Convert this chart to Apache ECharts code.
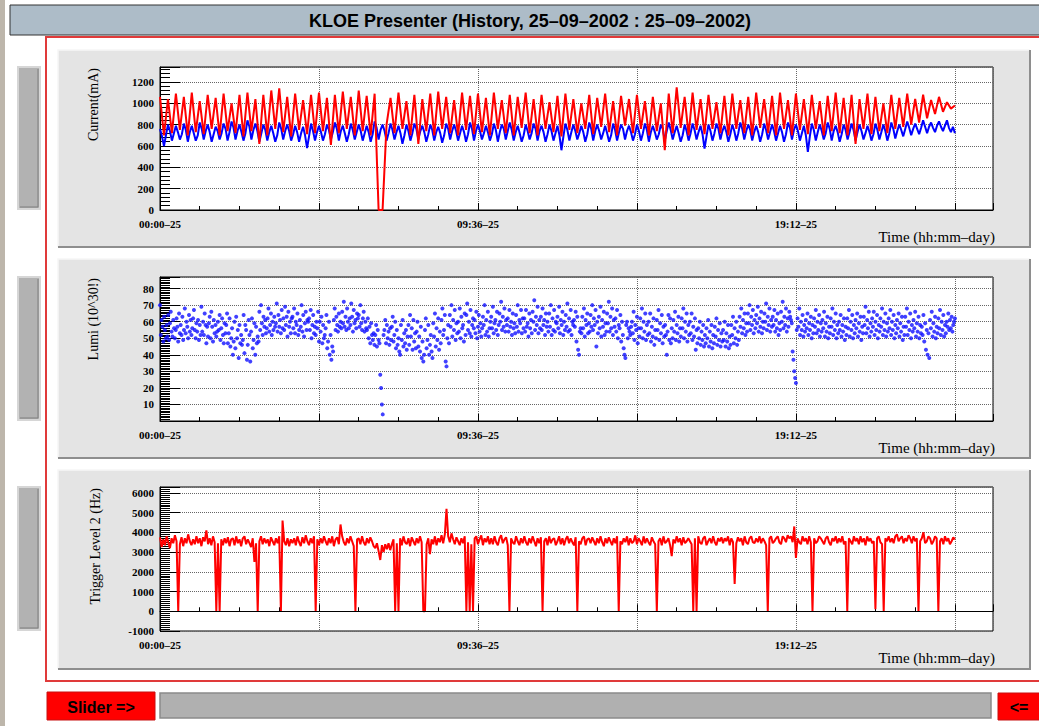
<!DOCTYPE html>
<html>
<head>
<meta charset="utf-8">
<title>KLOE Presenter</title>
<script src="https://cdn.jsdelivr.net/npm/echarts@6/dist/echarts.min.js"></script>
<style>
  html, body { margin: 0; padding: 0; background: #fff; }
  #chart { width: 1039px; height: 726px; }
</style>
</head>
<body>
<div id="chart"></div>
<script>
// all histories cover 00:00 -> 24:00 of 25-09-2002, axis runs a bit further
const SPAN_H = 24
const AXIS_MAX_H = 25.15
const timeTicks = [0, 9.6, 19.2]
const timeTickLabels = ['00:00–25', '09:36–25', '19:12–25']

// positron beam current (mA), one value every ~7 min
const currentRed = [
  1060,700,1040,720,1090,750,1060,700,1100,730, 1020,710,1080,760,1050,700,1090,740,1000,720, 1080,690,1100,740,1040,620,1080,700,1120,760, 1140,730,1060,690,1090,750,1030,710,1080,720,
  1100,740,1050,610,1080,720,1110,760,1060,700, 1120,740,1070,700,1090,0,0,800,1050,720, 1100,760,1020,700,1080,620,1040,740,1090,700, 1110,760,1060,720,1030,700,1100,750,1070,710,
  1090,730,1050,700,1100,760,1030,720,1080,700, 1060,770,1100,720,1040,700,1080,760,1010,730, 1070,690,1090,750,1040,720,1000,760,1080,710, 1050,780,1090,730,1020,700,1070,790,1040,720,
  1080,760,1020,700,1060,740,1000,560,1090,720, 1150,770,1060,700,1100,750,1040,710,1080,760, 1010,720,1070,700,1090,760,1030,720,1060,700, 1100,770,1040,720,1070,700,1100,760,1030,700,
  1090,750,1040,710,1080,760,1020,700,1070,740, 1100,720,1050,700,1080,620,1040,760,1090,710, 1060,740,1000,720,1080,760,1050,780,1090,800, 1040,820,1080,860,1030,900,1060,920,1010,950,
  980
]
// electron beam current (mA), one value every ~3.6 min
const currentBlue = [
  760,690,600,700, 800,740,650,720, 790,730,660,710, 810,750,640,730, 790,720,650,700, 820,760,660,740, 800,730,640,710, 780,740,660,720, 810,760,650,730, 830,770,660,740,
  800,730,650,720, 840,780,660,750, 810,740,640,720, 800,750,650,730, 790,720,640,700, 820,760,660,740, 800,740,650,710, 790,730,640,720, 780,700,580,690, 810,740,650,730,
  790,730,650,710, 800,750,660,730, 820,760,650,740, 790,720,640,710, 810,750,660,730, 800,740,650,720, 790,730,640,710, 830,770,660,750, 800,740,650,720, 810,750,660,730,
  790,720,620,700, 800,740,650,720, 810,760,660,740, 790,730,640,710, 800,750,650,730, 780,720,630,700, 810,760,660,740, 800,740,650,720, 790,730,640,710, 820,760,650,740,
  800,740,660,720, 790,730,650,710, 810,750,640,730, 800,760,660,740, 820,750,650,730, 790,720,640,700, 800,740,660,720, 810,760,650,740, 790,730,640,710, 800,740,650,720,
  790,700,560,690, 810,750,650,730, 800,740,660,720, 790,730,640,710, 820,760,650,740, 800,740,660,720, 790,720,640,700, 810,750,650,730, 800,760,660,740, 790,730,650,710,
  800,740,650,720, 810,750,640,730, 790,730,660,710, 800,760,650,740, 820,750,660,730, 790,720,640,700, 800,740,650,720, 810,750,660,730, 790,710,575,690, 800,740,650,720,
  810,760,660,740, 790,730,640,710, 800,740,650,720, 820,760,660,740, 800,750,650,730, 790,730,640,710, 810,750,660,730, 800,740,650,720, 790,730,640,710, 820,770,660,750,
  800,740,650,720, 790,700,545,690, 810,750,650,730, 800,740,660,720, 820,760,650,740, 790,730,640,710, 800,750,660,730, 810,750,650,730, 800,740,660,720, 790,730,650,710,
  810,750,660,730, 800,740,650,720, 820,760,670,740, 800,750,690,760, 830,770,700,760, 810,760,710,770, 840,780,720,780, 820,770,730,790, 830,780,740,790, 840,770,730,780,
  720
]

// luminosity (10^30), one line per hour
const lumi = [
  70,52,61,57,48,63,55,50,58,51, 64,49,59,66,54,51,61,56,50,55, 62,57,48,65,53,58,52,63,49,55, 68,53,60,57,50,64,54,61,52,56,
  62,67,55,50,59,54,61,49,58,52, 69,54,60,52,65,58,47,57,51,59, 63,50,66,57,48,61,53,58,51,54, 60,55,64,49,56,62,52,47,59,53,
  58,65,47,53,62,45,50,56,40,48, 60,44,63,50,55,38,58,47,52,46, 49,64,41,58,55,37,46,61,52,36, 54,62,44,49,59,40,57,47,51,48,
  66,55,70,59,52,63,57,61,53,56, 62,68,54,58,65,52,60,55,63,57, 59,71,54,64,57,61,53,67,56,62, 55,69,58,63,51,66,57,60,53,62,
  63,56,68,53,60,58,65,52,55,61, 57,70,54,64,51,59,66,55,61,60, 62,55,67,50,58,64,53,57,52,60, 56,66,48,60,54,63,47,58,50,52,
  56,64,44,48,60,40,52,37,45,42, 61,68,55,63,58,54,65,57,60,56, 66,59,72,57,63,55,68,60,56,62, 58,71,63,54,67,59,61,56,65,62,
  64,57,70,59,55,62,66,54,60,56, 55,62,50,57,47,59,52,49,53,46, 52,58,45,55,49,47,28,20,10,4, 52,55,61,47,58,50,54,46,56,49,
  57,63,48,52,60,44,55,46,50,42, 40,58,49,61,45,53,47,55,43,51, 58,46,64,51,56,43,61,48,53,44, 54,60,45,51,42,57,38,48,36,40,
  55,62,44,49,58,40,46,52,42,38, 59,51,65,45,56,49,62,43,54,47, 61,68,52,55,64,36,33,50,58,47, 64,57,70,51,61,55,67,49,59,53,
  60,54,68,50,63,56,58,48,65,52, 64,71,55,60,53,67,51,58,62,56, 61,53,66,50,57,64,54,59,51,56, 63,58,70,52,61,54,66,51,56,60,
  63,56,69,53,59,61,55,66,52,58, 65,60,72,55,63,57,68,54,61,58, 62,54,67,57,60,52,65,56,59,53, 64,57,70,54,61,59,67,53,62,56,
  62,54,67,57,59,51,65,56,61,53, 66,60,73,55,63,58,69,53,61,56, 63,55,68,58,61,52,65,57,60,54, 65,57,70,52,62,55,67,54,60,59,
  63,56,69,53,61,58,66,52,60,55, 64,57,71,54,62,55,67,52,60,58, 61,57,66,48,63,43,40,54,56,53, 63,56,68,51,61,58,65,53,59,54,
  64,57,70,55,62,58,67,45,60,53, 63,56,69,51,61,57,66,52,59,54, 65,59,72,54,63,56,68,52,61,57, 62,54,67,50,58,56,64,48,60,52,
  44,40,38,58,60,50,56,54,52,57, 60,53,66,49,58,55,63,47,56,51, 62,56,68,50,60,54,65,49,58,52, 60,53,65,48,57,51,62,46,55,50,
  61,55,67,49,59,53,64,47,57,51, 58,52,40,54,64,49,62,47,56,50, 61,54,66,49,58,53,63,48,56,51, 62,56,68,50,60,54,65,48,58,52,
  60,53,65,49,57,51,62,43,55,47, 56,50,60,46,54,49,58,45,52,47, 56,50,61,45,54,48,58,44,52,47, 57,51,62,46,55,49,59,45,53,48,
  55,49,60,45,53,48,58,44,51,46, 58,52,63,47,56,50,60,46,54,49, 63,57,68,53,61,56,65,52,59,54, 65,59,70,55,63,58,67,53,61,56,
  64,59,69,54,62,57,66,53,60,56, 65,60,71,55,63,58,68,54,61,57, 63,58,67,54,61,56,65,52,59,55, 66,60,72,56,63,58,68,54,62,57,
  66,63,61,59,42,37,30,26,23,55, 62,57,68,52,60,55,64,51,58,54, 61,56,65,52,59,55,63,50,58,53, 62,57,67,53,60,55,64,51,59,54,
  61,56,66,51,59,54,63,50,57,53, 62,57,68,52,60,55,65,50,58,53, 60,55,64,51,58,54,62,49,57,52, 62,56,67,51,60,55,64,50,58,53,
  61,56,65,51,59,54,63,49,57,53, 63,58,69,53,61,56,66,51,59,54, 62,57,66,52,60,55,64,50,58,54, 62,57,68,52,60,55,65,51,59,54,
  62,56,67,52,60,55,64,50,58,53, 61,56,65,51,59,54,63,49,57,52, 63,57,68,52,60,55,65,50,58,54, 61,56,66,51,59,54,63,50,58,53,
  57,52,64,48,59,43,55,40,53,38, 61,56,66,51,59,54,63,50,57,53, 62,56,67,52,60,55,64,51,58,53, 60,57,65,55,61,56,63,54,58,60,
  62
]

// trigger level 2 rate (Hz), one line per hour
const trigger = [
  3750,3250,3650,3350,3800,3500,3200,3700,3450,3850, 3550,0,3400,3750,3300,3700,3450,3900,3550,3350,
  3650,3400,3800,3450,3700,3300,3750,3550,4100,3400, 3700,3350,3800,3500,0,3450,0,3650,3350,3700,
  3450,3750,3300,3650,3700,3350,3800,3450,3650,3300, 3700,3800,3400,3650,3450,3250,3700,2500,3450,0,
  3550,3800,3400,3700,3450,3650,3300,3750,3550,3350, 3700,3450,3800,0,4600,3550,3350,3700,3300,3650,
  3450,3700,3350,3800,3500,3300,3750,3450,3850,3550, 3350,3700,3450,3800,0,3650,3350,3700,3450,3800,
  3550,3350,3700,3450,3800,3300,3650,3750,3400,4400, 3800,3500,3350,3700,3450,3800,3550,3300,0,3650,
  3700,3400,3800,3500,3350,3700,3450,3750,3550,3300, 3200,3450,3050,2600,3350,3000,3400,3150,3450,3100,
  3400,3650,0,3450,0,3700,3350,3800,3500,3400, 3700,3300,3750,3550,3350,3700,3450,3800,3500,0,
  0,3400,3700,2900,3650,3400,3800,3350,3700,3500, 3850,3450,3900,5200,3800,3500,3950,3650,3400,3750,
  3550,3350,3700,3450,3800,0,3500,0,3400,0, 3700,3800,3400,3650,3850,3350,3700,3500,3800,3400,
  3700,3400,3800,3500,3350,3700,3850,3450,3650,3750, 3350,0,3700,3500,3400,3800,3550,3350,3700,3450,
  3800,3500,3350,3700,3450,3800,3550,3300,3700,3450, 3750,0,3550,3700,3350,3800,3450,3650,3700,3350,
  3550,3800,3400,3700,3350,3650,3800,3450,3700,3500, 3350,3750,0,3550,3400,3700,3800,3350,3650,3700,
  3450,3750,3550,3350,3700,3450,3800,3500,3300,3700, 3450,3750,3550,3350,3700,3450,3800,0,3550,3400,
  3700,3500,3800,3350,3700,3450,3550,3850,3400,3700, 3550,3350,3800,3450,3700,3500,3350,3750,3550,3400,
  0,3550,3700,3350,3800,3450,3550,3700,3350,2800, 3650,3450,3800,3500,3700,3350,3750,3450,3550,3700,
  3550,3400,0,3700,0,3800,3500,3400,3700,3800, 3350,3550,3700,3450,3800,3500,3350,3700,3550,3750,
  3450,3700,3550,3800,3350,3700,3500,1380,3450,3750, 3550,3700,3350,3800,3500,3400,3700,3800,3500,3450,
  3700,3500,3800,3450,3700,3550,3350,0,3700,3800, 3450,3550,3700,3800,3500,3400,3800,3700,3500,3850,
  3700,3800,3500,4300,2700,3700,3500,3400,3800,3550, 3700,3400,3800,3500,0,3700,3450,3550,3800,3700,
  3550,3400,3700,3800,3500,3350,3700,3550,3800,3450, 3700,3500,3800,3400,3550,0,3700,3550,3400,3800,
  3550,3700,3400,3800,3500,3700,3350,3800,3550,3700, 3450,3550,100,3700,3800,3500,3400,0,3700,3550,
  3800,3500,3700,3450,3800,3900,3550,3700,3800,3450, 3700,3550,3850,3700,3450,3800,3550,3700,0,3550,
  3700,4000,3450,3550,3800,3700,3400,3550,3800,3700, 0,3550,3700,3400,3800,3550,3700,3400,3550,3750,
  3650
]

const toPoints = values => values.map((v, i) => [i * SPAN_H / (values.length - 1), v])

// plot frames (px), ROOT pads
const plots = [
  { left: 160, top: 67, width: 833, height: 143 },
  { left: 160, top: 277, width: 833, height: 144 },
  { left: 160, top: 487, width: 833, height: 144 }
]
const pads = [
  { y: 50, h: 197 },
  { y: 259, h: 199 },
  { y: 470, h: 199 }
]

const serif = '"Liberation Serif", "DejaVu Serif", serif'
const sans = '"Liberation Sans", Arial, sans-serif'

const xAxisFor = gridIndex => ({
  type: 'value',
  gridIndex,
  min: 0,
  max: AXIS_MAX_H,
  interval: 4.8,
  axisLine: { show: true, lineStyle: { color: '#000', width: 1 } },
  axisTick: { show: true, inside: true, length: 7, lineStyle: { color: '#000', width: 1 } },
  minorTick: { show: true, splitNumber: 4, length: 4, lineStyle: { color: '#000', width: 1 } },
  splitLine: { show: true, lineStyle: { color: '#666', type: 'dotted', width: 1 } },
  axisLabel: {
    margin: 8,
    fontFamily: serif,
    fontWeight: 'bold',
    fontSize: 11,
    color: '#000',
    formatter: v => {
      const k = timeTicks.findIndex(t => Math.abs(t - v) < 1e-6)
      return k < 0 ? '' : timeTickLabels[k]
    }
  }
})

const yAxisFor = (gridIndex, min, max, interval, minorSplit, showMin) => ({
  type: 'value',
  gridIndex,
  min,
  max,
  interval,
  axisLine: { show: true, lineStyle: { color: '#000', width: 1 } },
  axisTick: { show: true, inside: true, length: 20, lineStyle: { color: '#000', width: 1 } },
  minorTick: { show: true, splitNumber: minorSplit, length: 10, lineStyle: { color: '#000', width: 1 } },
  splitLine: { show: true, lineStyle: { color: '#666', type: 'dotted', width: 1 } },
  axisLabel: {
    margin: 6,
    fontFamily: serif,
    fontWeight: 'bold',
    fontSize: 11,
    color: '#000',
    showMinLabel: showMin,
    showMaxLabel: false,
    formatter: v => String(v)
  }
})

const graphics = []

// window chrome
graphics.push({ type: 'rect', shape: { x: 0, y: 0, width: 5, height: 726 }, style: { fill: '#bdb6ab' } })
graphics.push({ type: 'rect', shape: { x: 10, y: 5, width: 1035, height: 30 }, style: { fill: '#adbcc8', stroke: '#333', lineWidth: 1 } })
graphics.push({
  type: 'text', x: 530, y: 21,
  style: { text: 'KLOE Presenter (History, 25–09–2002 : 25–09–2002)', font: 'bold 18px ' + sans, fill: '#000', align: 'center', verticalAlign: 'middle' }
})

// red canvas frame
graphics.push({ type: 'polyline', shape: { points: [[1045, 37], [46, 37], [46, 681], [1045, 681]] }, style: { stroke: '#e03a3a', lineWidth: 2, fill: null } })

// pads with raised border
pads.forEach(p => {
  graphics.push({ type: 'rect', z: -10, shape: { x: 58, y: p.y, width: 972, height: p.h }, style: { fill: '#e4e4e4' } })
  graphics.push({ type: 'polyline', z: -9, shape: { points: [[58, p.y + p.h], [58, p.y], [1030, p.y]] }, style: { stroke: '#f6f6f6', lineWidth: 1.5, fill: null } })
  graphics.push({ type: 'polyline', z: -9, shape: { points: [[58, p.y + p.h], [1030, p.y + p.h], [1030, p.y]] }, style: { stroke: '#8e8e8e', lineWidth: 2, fill: null } })
})

// side buttons, one per pad
plots.forEach(g => {
  graphics.push({ type: 'rect', shape: { x: 18, y: g.top, width: 22, height: g.height - 1 }, style: { fill: '#b2b2b2', stroke: '#d6d6d6', lineWidth: 2 } })
  graphics.push({ type: 'polyline', shape: { points: [[20, g.top + g.height - 3], [38, g.top + g.height - 3], [38, g.top + 2]] }, style: { stroke: '#7f7f7f', lineWidth: 1, fill: null } })
})

// slider row
graphics.push({ type: 'rect', shape: { x: 47, y: 692, width: 108, height: 28 }, style: { fill: '#ff0000', stroke: '#c81010', lineWidth: 1 } })
graphics.push({ type: 'text', x: 101, y: 707, style: { text: 'Slider =>', font: 'bold 16px ' + sans, fill: '#000', align: 'center', verticalAlign: 'middle' } })
graphics.push({ type: 'rect', shape: { x: 160, y: 693, width: 831, height: 25 }, style: { fill: '#b0b0b0', stroke: '#8a8a8a', lineWidth: 1.5 } })
graphics.push({ type: 'rect', shape: { x: 998, y: 693, width: 45, height: 27 }, style: { fill: '#ff0000', stroke: '#c81010', lineWidth: 1 } })
graphics.push({ type: 'text', x: 1019, y: 707, style: { text: '<=', font: 'bold 16px ' + sans, fill: '#000', align: 'center', verticalAlign: 'middle' } })

// axis titles, ROOT style: y title top aligned, x title right aligned
const yTitles = ['Current(mA)', 'Lumi (10^30!)', 'Trigger Level 2 (Hz)']
plots.forEach((g, i) => {
  graphics.push({
    type: 'text', x: i === 2 ? 95 : 93, y: g.top + 1, rotation: Math.PI / 2,
    style: { text: yTitles[i], font: '14px ' + serif, fill: '#000', align: 'right', verticalAlign: 'middle' }
  })
  graphics.push({
    type: 'text', x: 995, y: g.top + g.height + 27,
    style: { text: 'Time (hh:mm–day)', font: '15px ' + serif, fill: '#000', align: 'right', verticalAlign: 'middle' }
  })
})

const chart = echarts.init(document.getElementById('chart'), null, { renderer: 'svg' })

chart.setOption({
  animation: false,
  backgroundColor: '#fff',
  textStyle: { fontFamily: serif },
  graphic: { elements: graphics },
  grid: plots.map(g => Object.assign({
    show: true,
    backgroundColor: '#fff',
    borderColor: '#000',
    borderWidth: 1,
    containLabel: false,
    outerBoundsMode: 'none'
  }, g)),
  xAxis: [xAxisFor(0), xAxisFor(1), xAxisFor(2)],
  yAxis: [
    yAxisFor(0, 0, 1340, 200, 5, true),
    yAxisFor(1, 0, 87, 10, 10, false),
    yAxisFor(2, -1000, 6300, 1000, 10, true)
  ],
  series: [
    {
      name: 'current e-', type: 'line', xAxisIndex: 0, yAxisIndex: 0,
      data: toPoints(currentBlue), showSymbol: false, symbol: 'none',
      lineStyle: { color: '#0000ff', width: 2 }
    },
    {
      name: 'current e+', type: 'line', xAxisIndex: 0, yAxisIndex: 0,
      data: toPoints(currentRed), showSymbol: false, symbol: 'none',
      lineStyle: { color: '#ff0000', width: 2 }
    },
    {
      name: 'lumi', type: 'scatter', xAxisIndex: 1, yAxisIndex: 1,
      data: toPoints(lumi), symbol: 'circle', symbolSize: 4,
      itemStyle: { color: '#1010ff' }
    },
    {
      name: 'trigger', type: 'line', xAxisIndex: 2, yAxisIndex: 2,
      data: toPoints(trigger), showSymbol: false, symbol: 'none',
      lineStyle: { color: '#ff0000', width: 2 },
      markLine: {
        silent: true, symbol: 'none', label: { show: false },
        lineStyle: { color: '#000', type: 'solid', width: 1 },
        data: [{ yAxis: 0 }]
      }
    }
  ]
})
</script>
</body>
</html>
